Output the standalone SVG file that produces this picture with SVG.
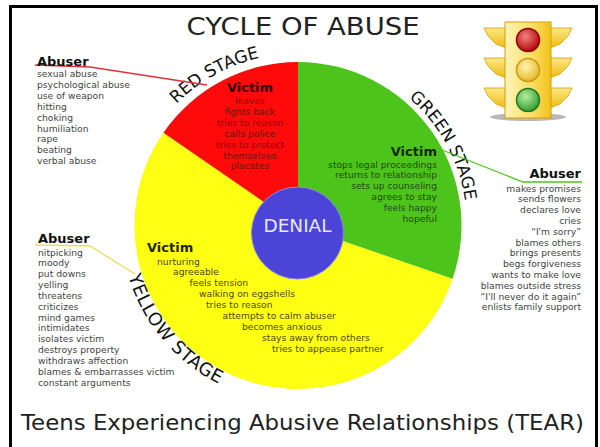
<svg xmlns="http://www.w3.org/2000/svg" width="600" height="447" viewBox="0 0 600 447">
<style>
.ab{font-family:"DejaVu Sans",Verdana,sans-serif;font-weight:bold;font-size:13px;fill:#111}
.it{font-family:"DejaVu Sans",Verdana,sans-serif;font-size:9.2px;fill:#444}
.vic{font-family:"DejaVu Sans",Verdana,sans-serif;font-weight:bold;font-size:13px}
.vi{font-family:"DejaVu Sans",Verdana,sans-serif;font-size:9.2px}
.stage{font-family:"DejaVu Sans",Verdana,sans-serif;font-size:17px;fill:#111}
.r{fill:#7a0a0a}.g{fill:#244a10}.y{fill:#4d4a00}
.conn{fill:none;stroke-width:1.3}
.wing{fill:url(#wingG);stroke:#d49f00;stroke-width:0.8}
</style>
<defs>
<path id="cwRed" d="M126,225.5 A172,172 0 1 1 470,225.5 A172,172 0 1 1 126,225.5"/>
<path id="cwGreen" d="M129,225.5 A169,169 0 1 1 467,225.5 A169,169 0 1 1 129,225.5"/>
<path id="ccwYellow" d="M121,225.5 A177,177 0 1 0 475,225.5 A177,177 0 1 0 121,225.5"/>
<linearGradient id="bodyG" x1="0" y1="0" x2="1" y2="0">
<stop offset="0" stop-color="#fff4b8"/><stop offset="0.55" stop-color="#fbe06a"/><stop offset="1" stop-color="#f2c21c"/>
</linearGradient>
<linearGradient id="wingG" x1="0" y1="0" x2="0" y2="1">
<stop offset="0" stop-color="#fde888"/><stop offset="1" stop-color="#f0bb10"/>
</linearGradient>
<radialGradient id="redL" cx="0.4" cy="0.35" r="0.7"><stop offset="0" stop-color="#f48080"/><stop offset="1" stop-color="#b00000"/></radialGradient>
<radialGradient id="yelL" cx="0.4" cy="0.35" r="0.7"><stop offset="0" stop-color="#fff4b0"/><stop offset="1" stop-color="#e6b520"/></radialGradient>
<radialGradient id="grnL" cx="0.4" cy="0.35" r="0.7"><stop offset="0" stop-color="#b8eea0"/><stop offset="1" stop-color="#2b962b"/></radialGradient>
</defs>

<rect x="0" y="0" width="600" height="447" fill="#ffffff"/>
<rect x="10.5" y="6.5" width="586" height="460" fill="none" stroke="#000" stroke-width="3"/>

<g id="title">
<text x="303" y="35" text-anchor="middle" textLength="233" lengthAdjust="spacingAndGlyphs" style="font-family:'DejaVu Sans',Verdana,sans-serif;font-size:25px;fill:#222">CYCLE OF ABUSE</text>
</g>

<g id="cycle">
<path id="yellow-sector" d="M298,225.5 L452.6,278.7 A163.5,163.5 0 1 1 163.4,132.7 Z" fill="#ffff14"/>
<path id="red-sector" d="M298,225.5 L163.4,132.7 A163.5,163.5 0 0 1 298,62 Z" fill="#ff0a0a"/>
<path id="green-sector" d="M298,225.5 L298,62 A163.5,163.5 0 0 1 452.6,278.7 Z" fill="#4dc41c"/>
</g>

<g id="denial">
<circle cx="297.5" cy="233" r="46" fill="#4b44d6" stroke="#8c88e8" stroke-width="1"/>
<text x="297.5" y="232" text-anchor="middle" style="font-family:'DejaVu Sans',Verdana,sans-serif;font-size:18.5px;fill:#e8e8ff">DENIAL</text>
</g>

<g id="stage-labels">
<text class="stage"><textPath href="#cwRed" startOffset="183" text-anchor="middle">RED STAGE</textPath></text>
<text class="stage"><textPath href="#cwGreen" startOffset="446" text-anchor="middle">GREEN STAGE</textPath></text>
<text class="stage" style="font-size:18px;letter-spacing:0.6px"><textPath href="#ccwYellow" startOffset="124" text-anchor="middle">YELLOW STAGE</textPath></text>
</g>

<g id="connectors">
<polyline class="conn" stroke="#e0303a" points="35,65 90,67 207,85"/>
<polyline class="conn" stroke="#4dc41c" points="437,148 523,182 582,182"/>
<polyline class="conn" stroke="#e6df5a" points="35,245 90,246 135,274"/>
</g>

<g id="red-victim" text-anchor="middle">
<text class="vic" x="250" y="91.5" fill="#2a0000">Victim</text>
<text class="vi r" x="250" y="104">leaves</text>
<text class="vi r" x="250" y="114.9">fights back</text>
<text class="vi r" x="250" y="125.8">tries to reason</text>
<text class="vi r" x="250" y="136.7">calls police</text>
<text class="vi r" x="250" y="147.6">tries to protect</text>
<text class="vi r" x="250" y="158.5">themselves</text>
<text class="vi r" x="250" y="169.4">placates</text>
</g>

<g id="green-victim" text-anchor="end">
<text class="vic" x="437" y="155.5" fill="#102a04">Victim</text>
<text class="vi g" x="437" y="167.5">stops legal proceedings</text>
<text class="vi g" x="437" y="178.4">returns to relationship</text>
<text class="vi g" x="437" y="189.3">sets up counseling</text>
<text class="vi g" x="437" y="200.2">agrees to stay</text>
<text class="vi g" x="437" y="211.1">feels happy</text>
<text class="vi g" x="437" y="222">hopeful</text>
</g>

<g id="yellow-victim">
<text class="vic" x="147" y="252" fill="#252400">Victim</text>
<text class="vi y" x="157" y="264.5">nurturing</text>
<text class="vi y" x="173" y="275.4">agreeable</text>
<text class="vi y" x="189.5" y="286.3">feels tension</text>
<text class="vi y" x="199" y="297.2">walking on eggshells</text>
<text class="vi y" x="206" y="308.1">tries to reason</text>
<text class="vi y" x="222.5" y="319">attempts to calm abuser</text>
<text class="vi y" x="242" y="329.9">becomes anxious</text>
<text class="vi y" x="262" y="340.8">stays away from others</text>
<text class="vi y" x="272" y="351.7">tries to appease partner</text>
</g>

<g id="red-abuser">
<text class="ab" x="37" y="66">Abuser</text>
<text class="it" x="37" y="77">sexual abuse</text>
<text class="it" x="37" y="87.9">psychological abuse</text>
<text class="it" x="37" y="98.8">use of weapon</text>
<text class="it" x="37" y="109.7">hitting</text>
<text class="it" x="37" y="120.6">choking</text>
<text class="it" x="37" y="131.5">humiliation</text>
<text class="it" x="37" y="142.4">rape</text>
<text class="it" x="37" y="153.3">beating</text>
<text class="it" x="37" y="164.2">verbal abuse</text>
</g>

<g id="green-abuser" text-anchor="end">
<text class="ab" x="581" y="178">Abuser</text>
<text class="it" x="581" y="191.5">makes promises</text>
<text class="it" x="581" y="202.3">sends flowers</text>
<text class="it" x="581" y="213.1">declares love</text>
<text class="it" x="581" y="223.9">cries</text>
<text class="it" x="581" y="234.7">“I'm sorry”</text>
<text class="it" x="581" y="245.5">blames others</text>
<text class="it" x="581" y="256.3">brings presents</text>
<text class="it" x="581" y="267.1">begs forgiveness</text>
<text class="it" x="581" y="277.9">wants to make love</text>
<text class="it" x="581" y="288.7">blames outside stress</text>
<text class="it" x="581" y="299.5">“I'll never do it again”</text>
<text class="it" x="581" y="310.3">enlists family support</text>
</g>

<g id="yellow-abuser">
<text class="ab" x="38" y="243">Abuser</text>
<text class="it" x="38" y="255.5">nitpicking</text>
<text class="it" x="38" y="266.3">moody</text>
<text class="it" x="38" y="277.2">put downs</text>
<text class="it" x="38" y="288">yelling</text>
<text class="it" x="38" y="298.8">threatens</text>
<text class="it" x="38" y="309.7">criticizes</text>
<text class="it" x="38" y="320.5">mind games</text>
<text class="it" x="38" y="331.3">intimidates</text>
<text class="it" x="38" y="342.1">isolates victim</text>
<text class="it" x="38" y="353">destroys property</text>
<text class="it" x="38" y="363.8">withdraws affection</text>
<text class="it" x="38" y="374.6">blames &amp; embarrasses victim</text>
<text class="it" x="38" y="385.5">constant arguments</text>
</g>

<g id="traffic-light">
<ellipse cx="528" cy="117" rx="38" ry="4" fill="#a8a8a8" opacity="0.8"/>
<polygon class="wing" points="506,28 484,28 488,36 496,44 506,48"/>
<polygon class="wing" points="506,58 484,58 488,66 496,74 506,78"/>
<polygon class="wing" points="506,88 484,88 488,96 496,104 506,108"/>
<polygon class="wing" points="550,28 572,28 568,36 560,44 550,48"/>
<polygon class="wing" points="550,58 572,58 568,66 560,74 550,78"/>
<polygon class="wing" points="550,88 572,88 568,96 560,104 550,108"/>
<rect x="505" y="22" width="46" height="96" fill="url(#bodyG)" stroke="#d49f00" stroke-width="1"/>
<circle cx="528" cy="40" r="11.5" fill="url(#redL)" stroke="#8a0000" stroke-width="1.5"/>
<circle cx="528" cy="70" r="11.5" fill="url(#yelL)" stroke="#c99a10" stroke-width="1.5"/>
<circle cx="528" cy="100" r="11.5" fill="url(#grnL)" stroke="#1d7a1d" stroke-width="1.5"/>
</g>

<g id="footer">
<text x="21" y="430" textLength="563" lengthAdjust="spacingAndGlyphs" style="font-family:'DejaVu Sans',Verdana,sans-serif;font-size:21px;fill:#222">Teens Experiencing Abusive Relationships (TEAR)</text>
</g>
</svg>
